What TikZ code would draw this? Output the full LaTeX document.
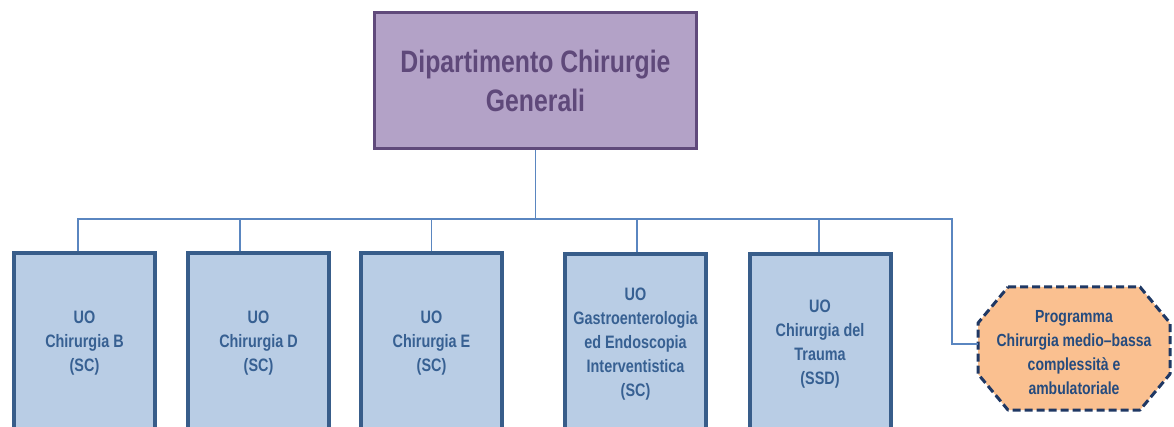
\documentclass[tikz,border=0pt]{standalone}
\usepackage{fontspec}
\setmainfont{Liberation Sans}[FakeStretch=0.8]
\definecolor{topfill}{HTML}{B3A2C7}
\definecolor{topline}{HTML}{604A7B}
\definecolor{toptext}{HTML}{5F497A}
\definecolor{unitfill}{HTML}{B9CDE5}
\definecolor{unitline}{HTML}{385D8A}
\definecolor{unittext}{HTML}{376092}
\definecolor{progfill}{HTML}{FAC090}
\definecolor{progline}{HTML}{1F3864}
\definecolor{progtext}{HTML}{254B7E}
\definecolor{connblue}{HTML}{5A86C0}
\begin{document}
\begin{tikzpicture}[x=1pt,y=-1pt,
  topbox/.style={rectangle, draw=topline, fill=topfill, line width=3.5pt,
    minimum width=322pt, minimum height=136pt, align=center,
    text=toptext, font=\bfseries\fontsize{31}{39}\selectfont},
  unitbox/.style={rectangle, draw=unitline, fill=unitfill, line width=4pt,
    minimum width=141pt, minimum height=180pt, anchor=north, align=center,
    text=unittext, font=\bfseries\fontsize{18}{24}\selectfont},
  progshape/.style={draw=progline, fill=progfill, line width=3pt,
    dash pattern=on 8pt off 4pt, line join=round},
  progbox/.style={align=center, inner sep=0pt,
    text=progtext, font=\bfseries\fontsize{17.5}{24}\selectfont},
  conn/.style={draw=connblue, line width=1.8pt}]
\useasboundingbox (0,0) rectangle (1174,427);
\clip (0,0) rectangle (1174,427);

\node[topbox] (top) at (535.5,80.5) {Dipartimento Chirurgie\\Generali};

\node[unitbox] (B) at (84.5,251) {UO\\Chirurgia B\\(SC)};
\node[unitbox] (D) at (258.5,251) {UO\\Chirurgia D\\(SC)};
\node[unitbox] (E) at (431.5,251) {UO\\Chirurgia E\\(SC)};
\node[unitbox] (G) at (635.5,252) {UO\\Gastroenterologia\\ed Endoscopia\\Interventistica\\(SC)};
\node[unitbox] (T) at (820,252) {UO\\Chirurgia del\\Trauma\\(SSD)};

\draw[progshape] (1008,287) -- (1140,287) -- (1170,323) -- (1170,374)
  -- (1140,410) -- (1008,410) -- (978,374) -- (978,323) -- cycle;
\node[progbox] (P) at (1074,353) {Programma\\Chirurgia medio–bassa\\complessità e\\ambulatoriale};
\coordinate (Pwest) at (978,344);

\draw[conn] (top.south) -- ++(0,69) coordinate (bus);
\draw[conn] (bus) -| ([xshift=-6.5pt]B.north);
\draw[conn] (bus) -| ([xshift=-18.5pt]D.north);
\draw[conn] (bus) -| (E.north);
\draw[conn] (bus) -| ([xshift=1.5pt]G.north);
\draw[conn] (bus) -| ([xshift=-1pt]T.north);
\coordinate (hexbend) at (952,344);
\draw[conn] (bus) -| (hexbend) -- (Pwest);
\end{tikzpicture}
\end{document}
